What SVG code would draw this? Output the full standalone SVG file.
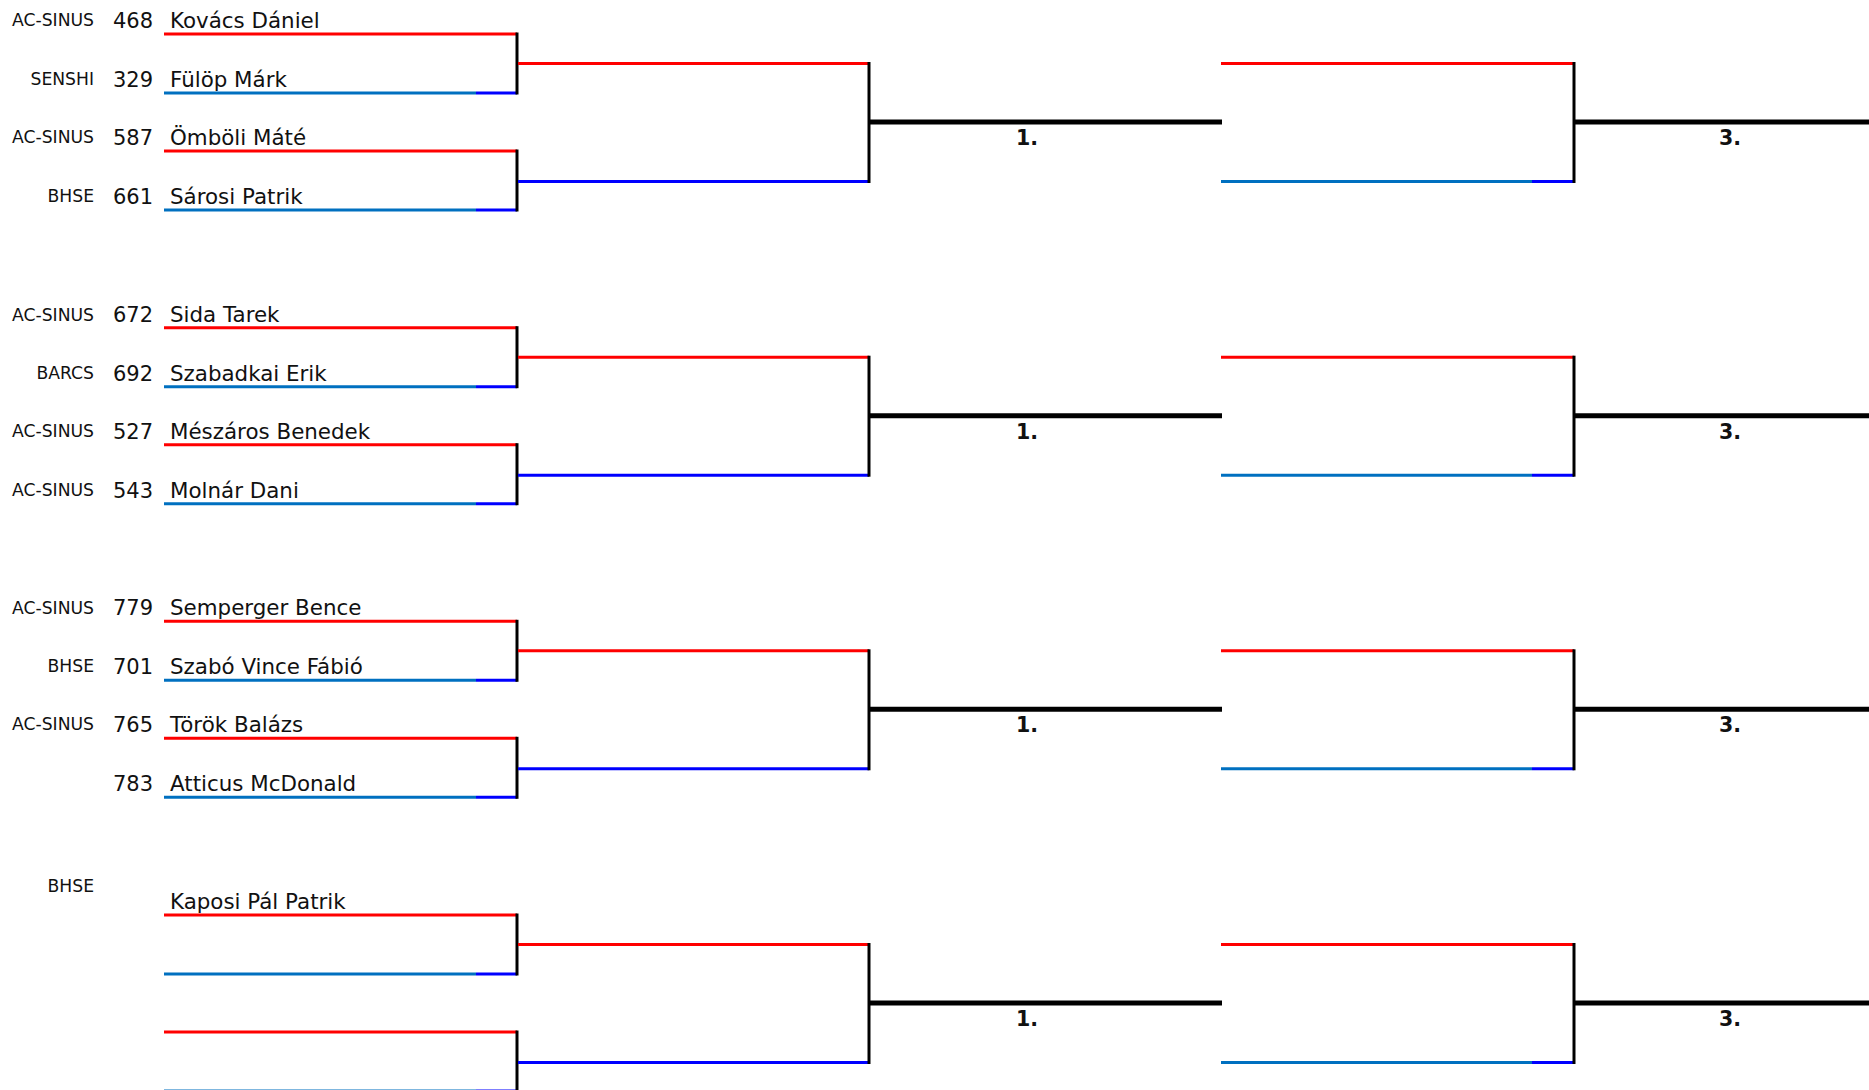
<svg xmlns="http://www.w3.org/2000/svg" width="1869" height="1090" viewBox="0 0 1869 1090">
<style>
text{font-family:"DejaVu Sans","Liberation Sans",sans-serif;fill:#111}
.club{font-size:17.2px;text-anchor:end}
.num{font-size:21px;text-anchor:end}
.name{font-size:21.4px}
.rank{font-size:20.5px;font-weight:bold}
line{stroke-width:3;fill:none}
.r{stroke:#ff0000}
.s{stroke:#0070c0}
.b{stroke:#0000ff}
.k{stroke:#000}
.t{stroke:#000;stroke-width:5}
</style>
<defs>
<g id="bracket">
<line class="r" x1="164" y1="0" x2="517" y2="0"/>
<line class="s" x1="164" y1="59" x2="476" y2="59"/>
<line class="b" x1="476" y1="59" x2="517" y2="59"/>
<line class="k" x1="517" y1="-1.5" x2="517" y2="60.5"/>
<line class="r" x1="164" y1="117" x2="517" y2="117"/>
<line class="s" x1="164" y1="176" x2="476" y2="176"/>
<line class="b" x1="476" y1="176" x2="517" y2="176"/>
<line class="k" x1="517" y1="115.5" x2="517" y2="177.5"/>
<line class="r" x1="518" y1="29.5" x2="869" y2="29.5"/>
<line class="b" x1="518" y1="147.5" x2="869" y2="147.5"/>
<line class="k" x1="869" y1="28" x2="869" y2="149"/>
<line class="t" x1="869" y1="88" x2="1222" y2="88"/>
<line class="r" x1="1221" y1="29.5" x2="1574" y2="29.5"/>
<line class="s" x1="1221" y1="147.5" x2="1532" y2="147.5"/>
<line class="b" x1="1532" y1="147.5" x2="1574" y2="147.5"/>
<line class="k" x1="1574" y1="28" x2="1574" y2="149"/>
<line class="t" x1="1574" y1="88" x2="1869" y2="88"/>
</g>
</defs>
<g id="connectors">
<use href="#bracket" transform="translate(0,34)"/>
<use href="#bracket" transform="translate(0,327.7)"/>
<use href="#bracket" transform="translate(0,621.3)"/>
<use href="#bracket" transform="translate(0,915)"/>
</g>
<g id="g1">
<g id="p468"><text class="club" x="94" y="26">AC-SINUS</text><text class="num" x="153" y="28">468</text><text class="name" x="170" y="28">Kovács Dániel</text></g>
<g id="p329"><text class="club" x="94" y="85">SENSHI</text><text class="num" x="153" y="87">329</text><text class="name" x="170" y="87">Fülöp Márk</text></g>
<g id="p587"><text class="club" x="94" y="143">AC-SINUS</text><text class="num" x="153" y="145">587</text><text class="name" x="170" y="145">Ömböli Máté</text></g>
<g id="p661"><text class="club" x="94" y="202">BHSE</text><text class="num" x="153" y="204">661</text><text class="name" x="170" y="204">Sárosi Patrik</text></g>
<g id="r1a"><text class="rank" x="1016" y="145">1.</text></g>
<g id="r3a"><text class="rank" x="1719" y="145">3.</text></g>
</g>
<g id="g2">
<g id="p672"><text class="club" x="94" y="321">AC-SINUS</text><text class="num" x="153" y="322">672</text><text class="name" x="170" y="322">Sida Tarek</text></g>
<g id="p692"><text class="club" x="94" y="379">BARCS</text><text class="num" x="153" y="381">692</text><text class="name" x="170" y="381">Szabadkai Erik</text></g>
<g id="p527"><text class="club" x="94" y="437">AC-SINUS</text><text class="num" x="153" y="439">527</text><text class="name" x="170" y="439">Mészáros Benedek</text></g>
<g id="p543"><text class="club" x="94" y="496">AC-SINUS</text><text class="num" x="153" y="498">543</text><text class="name" x="170" y="498">Molnár Dani</text></g>
<g id="r1b"><text class="rank" x="1016" y="439">1.</text></g>
<g id="r3b"><text class="rank" x="1719" y="439">3.</text></g>
</g>
<g id="g3">
<g id="p779"><text class="club" x="94" y="614">AC-SINUS</text><text class="num" x="153" y="615">779</text><text class="name" x="170" y="615">Semperger Bence</text></g>
<g id="p701"><text class="club" x="94" y="672">BHSE</text><text class="num" x="153" y="674">701</text><text class="name" x="170" y="674">Szabó Vince Fábió</text></g>
<g id="p765"><text class="club" x="94" y="730">AC-SINUS</text><text class="num" x="153" y="732">765</text><text class="name" x="170" y="732">Török Balázs</text></g>
<g id="p783"><text class="num" x="153" y="791">783</text><text class="name" x="170" y="791">Atticus McDonald</text></g>
<g id="r1c"><text class="rank" x="1016" y="732">1.</text></g>
<g id="r3c"><text class="rank" x="1719" y="732">3.</text></g>
</g>
<g id="g4">
<g id="pkaposi"><text class="club" x="94" y="892">BHSE</text><text class="name" x="170" y="909">Kaposi Pál Patrik</text></g>
<g id="r1d"><text class="rank" x="1016" y="1026">1.</text></g>
<g id="r3d"><text class="rank" x="1719" y="1026">3.</text></g>
</g>
</svg>
